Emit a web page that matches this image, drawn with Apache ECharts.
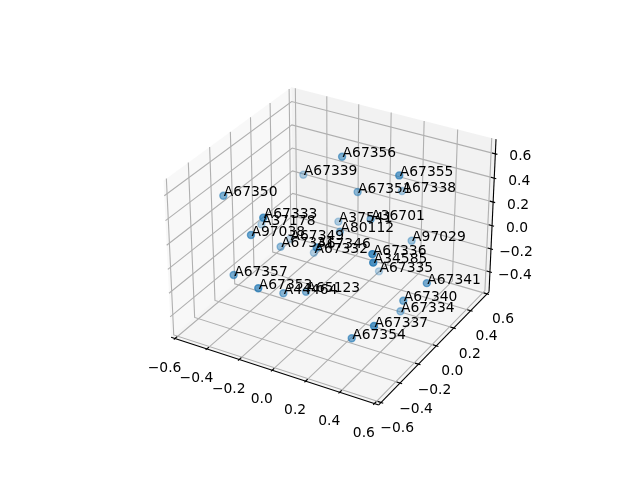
<!DOCTYPE html>
<html lang="en">
<head>
<meta charset="UTF-8">
<title>scatter 3d</title>
<script src="https://cdn.jsdelivr.net/npm/echarts@6/dist/echarts.min.js"></script>
<style>html,body{margin:0;padding:0;background:#fff}#chart{width:640px;height:480px}</style>
</head>
<body>
<div id="chart"></div>
<script>
// values, depth estimated from how faded each point is
var names = ['A67356','A67355','A67339','A67351','A67338','A67350','A67333','A37178','A97038','A67331','A67349','A67346','A67332','A37541','A36701','A80112','A97029','A67336','A34585','A67335','A67341','A67357','A67353','A44464','A65123','A67340','A67334','A67337','A67354'];
var xs = [-0.020,0.370,-0.457,0.006,0.058,-0.504,-0.100,-0.623,-0.230,-0.323,-0.527,0.122,-0.299,-0.225,0.146,-0.068,0.235,0.504,0.518,-0.005,0.567,-0.305,-0.082,-0.154,-0.053,0.443,0.299,0.514,0.303];
var ys = [0.129,0.031,0.464,0.251,0.657,-0.268,-0.523,0.284,-0.438,-0.002,0.429,-0.376,0.307,0.449,0.143,0.192,0.444,-0.488,-0.504,0.521,-0.016,-0.495,-0.612,-0.255,-0.192,-0.036,0.209,-0.481,-0.332];
var zs = [0.654,0.709,0.131,0.295,0.058,0.411,0.560,-0.247,0.312,-0.125,-0.439,0.309,-0.384,-0.179,0.193,-0.029,-0.160,0.489,0.439,-0.581,-0.057,-0.007,0.062,-0.272,-0.262,-0.242,-0.578,-0.087,-0.397];
var xTicks = [-0.6,-0.4,-0.2,0,0.2,0.4,0.6];
var yTicks = [-0.6,-0.4,-0.2,0,0.2,0.4,0.6];
var zTicks = [-0.4,-0.2,0,0.2,0.4,0.6];
var xMin=-0.625,xMax=0.625,yMin=-0.625,yMax=0.625,zMin=-0.575,zMax=0.72;

// 3d view: elevation 30, azimuth -60, slight perspective
var box=[1.1905,1.1905,0.89286],el=30*Math.PI/180,az=-60*Math.PI/180,dist=10;
var W=[Math.cos(el)*Math.cos(az),Math.cos(el)*Math.sin(az),Math.sin(el)];
var U=[-Math.sin(az),Math.cos(az),0];
var V=[-Math.sin(el)*Math.cos(az),-Math.sin(el)*Math.sin(az),Math.cos(el)];
function world(p){return [(p[0]-xMin)/(xMax-xMin)*box[0]-box[0]/2,(p[1]-yMin)/(yMax-yMin)*box[1]-box[1]/2,(p[2]-zMin)/(zMax-zMin)*box[2]-box[2]/2];}
function dot(a,b){return a[0]*b[0]+a[1]*b[1]+a[2]*b[2];}
function depth(p){return dot(world(p),W);}
function project(p){
  var w=world(p),f=dist-dot(w,W);
  return [333+dot(w,U)/f*1998,238.5-dot(w,V)/f*1998];
}
var pts=names.map(function(n,i){return [xs[i],ys[i],zs[i]];});
var depths=pts.map(depth),dLo=Math.min.apply(null,depths),dHi=Math.max.apply(null,depths);

var panes=[
 [[xMin,yMin,zMin],[xMin,yMax,zMin],[xMin,yMax,zMax],[xMin,yMin,zMax],'rgba(242,242,242,0.5)'],
 [[xMin,yMax,zMin],[xMax,yMax,zMin],[xMax,yMax,zMax],[xMin,yMax,zMax],'rgba(230,230,230,0.5)'],
 [[xMin,yMin,zMin],[xMax,yMin,zMin],[xMax,yMax,zMin],[xMin,yMax,zMin],'rgba(236,236,236,0.5)']
];
var gridLines=[],axisLines=[],tickLabels=[];
xTicks.forEach(function(t){
  gridLines.push([[t,yMin,zMin],[t,yMax,zMin],[t,yMax,zMax]]);
  axisLines.push([[t,yMin+0.02,zMin],[t,yMin-0.012,zMin]]);
  var s=project([t,yMin,zMin]);tickLabels.push([s[0]-10.5,s[1]+29.5,t]);
});
yTicks.forEach(function(t){
  gridLines.push([[xMax,t,zMin],[xMin,t,zMin],[xMin,t,zMax]]);
  axisLines.push([[xMax-0.02,t,zMin],[xMax+0.012,t,zMin]]);
  var s=project([xMax,t,zMin]);tickLabels.push([s[0]+16,s[1]+26,t]);
});
zTicks.forEach(function(t){
  gridLines.push([[xMax,yMax,t],[xMin,yMax,t],[xMin,yMin,t]]);
  axisLines.push([[xMax-0.02,yMax,t],[xMax+0.012,yMax,t]]);
  var s=project([xMax,yMax,t]);tickLabels.push([s[0]+25,s[1]+3,t]);
});
axisLines.push([[xMin,yMin,zMin],[xMax,yMin,zMin]]);
axisLines.push([[xMax,yMin,zMin],[xMax,yMax,zMin]]);
axisLines.push([[xMax,yMax,zMin],[xMax,yMax,zMax]]);

function polyline(list,color,width,z){
  return {type:'custom',coordinateSystem:'cartesian2d',silent:true,z:z,data:list.map(function(l,i){return [i];}),
    renderItem:function(params,api){
      var l=list[params.dataIndex];
      return {type:'polyline',shape:{points:l.map(function(p){return api.coord(project(p));})},style:{stroke:color,lineWidth:width,fill:null}};
    }};
}
var font='13.89px "DejaVu Sans"';
var option={
  animation:false,
  grid:{left:0,right:0,top:0,bottom:0},
  xAxis:{type:'value',min:0,max:640,show:false},
  yAxis:{type:'value',min:0,max:480,inverse:true,show:false},
  series:[
    {type:'custom',silent:true,z:1,data:panes.map(function(l,i){return [i];}),
     renderItem:function(params,api){
       var pn=panes[params.dataIndex];
       return {type:'polygon',shape:{points:pn.slice(0,4).map(function(p){return api.coord(project(p));})},style:{fill:pn[4]}};
     }},
    polyline(gridLines,'rgb(176,176,176)',1.1,2),
    polyline(axisLines,'#000',1.1,3),
    {type:'scatter',z:4,silent:true,symbolSize:7,
     data:pts.map(function(p,i){
       var a=0.3+0.7*(depths[i]-dLo)/(dHi-dLo);
       var c='rgba(31,119,180,'+a.toFixed(3)+')';
       return {value:project(p),itemStyle:{color:c,borderColor:c,borderWidth:1.4}};
     })},
    {type:'custom',z:5,silent:true,data:pts.map(function(p,i){return [i];}),
     renderItem:function(params,api){
       var i=params.dataIndex,c=api.coord(project(pts[i]));
       return {type:'text',x:c[0]+0.5,y:c[1]+4,style:{text:names[i],fill:'#000',font:font,align:'left',verticalAlign:'bottom'}};
     }},
    {type:'custom',z:5,silent:true,data:tickLabels.map(function(l,i){return [i];}),
     renderItem:function(params,api){
       var l=tickLabels[params.dataIndex],c=api.coord([l[0],l[1]]);
       var s=(l[2]<0?'\u2212':'')+Math.abs(l[2]).toFixed(1);
       return {type:'text',x:c[0],y:c[1],style:{text:s,fill:'#000',font:font,align:'center',verticalAlign:'middle'}};
     }}
  ]
};
echarts.init(document.getElementById('chart')).setOption(option);
</script>
</body>
</html>
